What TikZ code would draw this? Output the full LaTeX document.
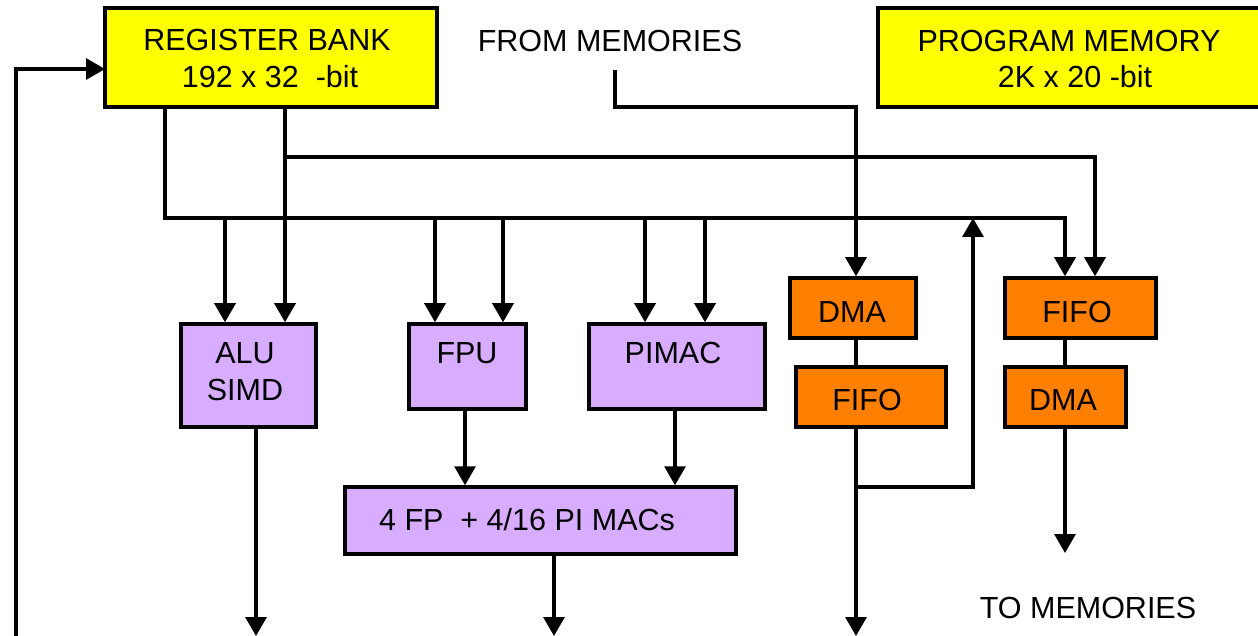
\documentclass[tikz,border=0pt]{standalone}
\usepackage{fontspec}
\setmainfont{Liberation Sans}
\usetikzlibrary{arrows.meta}
\definecolor{memyellow}{RGB}{255,255,0}
\definecolor{unitlilac}{RGB}{216,172,255}
\definecolor{ioorange}{RGB}{255,128,0}

\begin{document}
\begin{tikzpicture}[x=1pt,y=-1pt,
  box/.style={draw=black, line width=3.5pt, rectangle, inner sep=0pt},
  mem/.style={box, fill=memyellow},
  unit/.style={box, fill=unitlilac},
  io/.style={box, fill=ioorange},
  txt/.style={font=\fontsize{30.5}{36}\selectfont, anchor=base, inner sep=0pt},
  wire/.style={line width=3.2pt},
  arr/.style={wire, -{Triangle[width=21pt,length=19pt]}},
]
\clip (0,0) rectangle (1258,636);

% memories
\node[mem, minimum width=332, minimum height=99] (reg) at (271,57.5) {};
\node[txt] (regA) at (267,51) {REGISTER BANK};
\node[txt] (regB) at (270,88) {192 x 32\ \ -bit};
\node[mem, minimum width=384, minimum height=99] (prog) at (1070,57.5) {};
\node[txt] (progA) at (1069,52) {PROGRAM MEMORY};
\node[txt] (progB) at (1075,88) {2K x 20 -bit};
\node[txt] (from) at (610,52) {FROM MEMORIES};
\node[txt] (to) at (1088,618) {TO MEMORIES};

% processing units
\node[unit, minimum width=135, minimum height=103] (alu) at (248.5,375.5) {};
\node[txt] (aluA) at (245,363) {ALU};
\node[txt] (aluB) at (245,400) {SIMD};
\node[unit, minimum width=117, minimum height=85] (fpu) at (467.5,366.5) {};
\node[txt] (fpuA) at (467,363) {FPU};
\node[unit, minimum width=176, minimum height=85] (pimac) at (677,366.5) {};
\node[txt] (pimacA) at (673,363) {PIMAC};
\node[unit, minimum width=391, minimum height=67] (mac) at (540.5,520.5) {};
\node[txt] (macA) at (527,530) {4 FP\ \ + 4/16 PI MACs};

% I/O channels
\node[io, minimum width=126, minimum height=60] (dma1) at (853,308) {};
\node[txt] (dma1A) at (852,322) {DMA};
\node[io, minimum width=150, minimum height=60] (fifo1) at (871,397) {};
\node[txt] (fifo1A) at (867,410) {FIFO};
\node[io, minimum width=151, minimum height=60] (fifo2) at (1080.5,308) {};
\node[txt] (fifo2A) at (1077,322) {FIFO};
\node[io, minimum width=121, minimum height=60] (dma2) at (1065.5,397) {};
\node[txt] (dma2A) at (1063,410) {DMA};

% routing points
\coordinate (busL) at (165,218);
\coordinate (busR) at (1065,218);
\coordinate (tapB) at (285,157);
\coordinate (busB) at (1095,157);
\coordinate (dA) at (225,218);
\coordinate (dF1) at (435,218);
\coordinate (dF2) at (503,218);
\coordinate (dP1) at (645,218);
\coordinate (dP2) at (705,218);
\coordinate (fm) at (615,70);
\coordinate (fmTurn) at (856,107);
\coordinate (loopUp) at (973,218);
\coordinate (loopTap) at (856,487);
\coordinate (outIO) at (856,636);
\coordinate (outALU) at (256,636);
\coordinate (outMAC) at (554,636);
\coordinate (outDMA) at (1065,553);
\coordinate (fbBot) at (16,636);
\coordinate (fbIn) at (105,69);
\coordinate (xFpu) at (465,0);
\coordinate (xPim) at (675,0);
\coordinate (xIO) at (856,0);
\coordinate (xIO2) at (1065,0);

% register bank buses
\draw[arr] (reg.south -| busL) |- (busR) -- (fifo2.north -| busR);
\draw[arr] (reg.south -| tapB) -- (alu.north -| tapB);
\draw[arr] (tapB) -| (fifo2.north -| busB);
\draw[arr] (dA) -- (alu.north -| dA);
\draw[arr] (dF1) -- (fpu.north -| dF1);
\draw[arr] (dF2) -- (fpu.north -| dF2);
\draw[arr] (dP1) -- (pimac.north -| dP1);
\draw[arr] (dP2) -- (pimac.north -| dP2);

% unit outputs
\draw[arr] (fpu.south -| xFpu) -- (mac.north -| xFpu);
\draw[arr] (pimac.south -| xPim) -- (mac.north -| xPim);
\draw[arr] (alu.south -| outALU) -- (outALU);
\draw[arr] (mac.south -| outMAC) -- (outMAC);

% memory input path
\draw[arr] (fm) |- (fmTurn) -- (dma1.north -| fmTurn);
\draw[wire] (dma1.south -| xIO) -- (fifo1.north -| xIO);
\draw[arr] (fifo1.south -| xIO) -- (outIO);
\draw[arr] (loopTap) -| (loopUp);

% memory output path
\draw[wire] (fifo2.south -| xIO2) -- (dma2.north -| xIO2);
\draw[arr] (dma2.south -| outDMA) -- (outDMA);

% write-back loop
\draw[arr] (fbBot) |- (fbIn);
\end{tikzpicture}
\end{document}
